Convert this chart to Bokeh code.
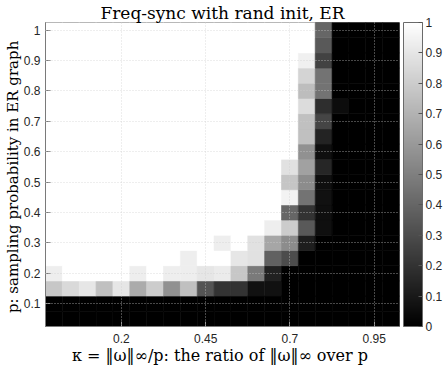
from bokeh.plotting import figure
from bokeh.models import (LinearColorMapper, ColorBar, FixedTicker, CustomJSTickFormatter,
                          ColumnDataSource, Range1d)
from bokeh.transform import transform
from bokeh.palettes import Greys256
from bokeh.embed import file_html
from bokeh.resources import INLINE

# kappa = ||omega||_inf / p  (columns)
kappa = [0.0, 0.05, 0.1, 0.15, 0.2, 0.25, 0.3, 0.35, 0.4, 0.45, 0.5,
         0.55, 0.6, 0.65, 0.7, 0.75, 0.8, 0.85, 0.9, 0.95, 1.0]
# p = sampling probability (rows)
p_vals = [0.05, 0.1, 0.15, 0.2, 0.25, 0.3, 0.35, 0.4, 0.45, 0.5,
          0.55, 0.6, 0.65, 0.7, 0.75, 0.8, 0.85, 0.9, 0.95, 1.0]

# success rate, one row per p value (bottom to top), one entry per kappa value
rate = [
    [0, 0, 0, 0, 0, 0, 0, 0, 0, 0, 0, 0, 0, 0, 0, 0, 0, 0, 0, 0, 0],
    [0, 0, 0, 0, 0, 0, 0, 0, 0, 0, 0, 0, 0, 0, 0, 0, 0, 0, 0, 0, 0],
    [0.78, 0.85, 0.90, 0.75, 0.90, 0.67, 0.80, 0.57, 0.75, 0.33, 0.20, 0.20, 0.07, 0.07, 0, 0, 0, 0, 0, 0, 0],
    [0.93, 1, 1, 1, 1, 0.93, 1, 0.93, 0.93, 0.90, 0.92, 0.78, 0.48, 0.13, 0, 0, 0, 0, 0, 0, 0],
    [1, 1, 1, 1, 1, 1, 1, 1, 0.93, 1, 1, 0.90, 0.88, 0.38, 0.30, 0, 0, 0, 0, 0, 0],
    [1, 1, 1, 1, 1, 1, 1, 1, 1, 1, 0.93, 1, 0.88, 0.65, 0.55, 0.12, 0, 0, 0, 0, 0],
    [1, 1, 1, 1, 1, 1, 1, 1, 1, 1, 1, 1, 1, 0.93, 0.80, 0.35, 0.06, 0, 0, 0, 0],
    [1, 1, 1, 1, 1, 1, 1, 1, 1, 1, 1, 1, 1, 1, 0.40, 0.20, 0.06, 0, 0, 0, 0],
    [1, 1, 1, 1, 1, 1, 1, 1, 1, 1, 1, 1, 1, 1, 0.95, 0.45, 0.07, 0, 0, 0, 0],
    [1, 1, 1, 1, 1, 1, 1, 1, 1, 1, 1, 1, 1, 1, 0.77, 0.55, 0.06, 0, 0, 0, 0],
    [1, 1, 1, 1, 1, 1, 1, 1, 1, 1, 1, 1, 1, 1, 0.88, 0.63, 0.15, 0, 0, 0, 0],
    [1, 1, 1, 1, 1, 1, 1, 1, 1, 1, 1, 1, 1, 1, 1, 0.57, 0.06, 0, 0, 0, 0],
    [1, 1, 1, 1, 1, 1, 1, 1, 1, 1, 1, 1, 1, 1, 1, 0.75, 0.14, 0, 0, 0, 0],
    [1, 1, 1, 1, 1, 1, 1, 1, 1, 1, 1, 1, 1, 1, 1, 0.75, 0.27, 0, 0, 0, 0],
    [1, 1, 1, 1, 1, 1, 1, 1, 1, 1, 1, 1, 1, 1, 1, 0.86, 0.18, 0.05, 0, 0, 0],
    [1, 1, 1, 1, 1, 1, 1, 1, 1, 1, 1, 1, 1, 1, 1, 0.74, 0.45, 0, 0, 0, 0],
    [1, 1, 1, 1, 1, 1, 1, 1, 1, 1, 1, 1, 1, 1, 1, 0.83, 0.45, 0, 0, 0, 0],
    [1, 1, 1, 1, 1, 1, 1, 1, 1, 1, 1, 1, 1, 1, 1, 0.94, 0.26, 0, 0, 0, 0],
    [1, 1, 1, 1, 1, 1, 1, 1, 1, 1, 1, 1, 1, 1, 1, 1, 0.35, 0, 0, 0, 0],
    [1, 1, 1, 1, 1, 1, 1, 1, 1, 1, 1, 1, 1, 1, 1, 1, 0.40, 0, 0, 0, 0],
]

x_ticks = [0.2, 0.45, 0.7, 0.95]
y_ticks = [0.1, 0.2, 0.3, 0.4, 0.5, 0.6, 0.7, 0.8, 0.9, 1.0]
cbar_ticks = [0, 0.1, 0.2, 0.3, 0.4, 0.5, 0.6, 0.7, 0.8, 0.9, 1.0]

title_text = "Freq-sync with rand init, ER"
xlabel_text = "κ = ‖ω‖∞/p:  the ratio of ‖ω‖∞ over p"
ylabel_text = "p:  sampling probability in ER graph"

cell_w = kappa[1] - kappa[0]
cell_h = p_vals[1] - p_vals[0]

xs, ys, vs = [], [], []
for i, pv in enumerate(p_vals):
    for j, kv in enumerate(kappa):
        xs.append(kv)
        ys.append(pv)
        vs.append(rate[i][j])
src = ColumnDataSource(dict(x=xs, y=ys, v=vs))

mapper = LinearColorMapper(palette=Greys256, low=0, high=1)

SERIF = "DejaVu Serif"
SANS = "Liberation Sans"
TXT = "#262626"

W, H = 447, 367
BL, BR, BT, BB = 45, 48, 22, 41
FW, FH = W - BL - BR, H - BT - BB

x0, x1 = kappa[0] - cell_w / 2, kappa[-1] + cell_w / 2
y0, y1 = p_vals[0] - cell_h / 2, p_vals[-1] + cell_h / 2

p = figure(width=W, height=H, output_backend="svg", toolbar_location=None,
           x_range=Range1d(x0, x1), y_range=Range1d(y0, y1),
           min_border_left=BL, min_border_top=BT, min_border_bottom=BB, min_border_right=BR)

p.rect(x="x", y="y", width=cell_w, height=cell_h, source=src,
       fill_color=transform("v", mapper), line_color=transform("v", mapper), line_width=0.6)

fmt = CustomJSTickFormatter(code="return String(Number(tick.toFixed(2)));")

p.title.text = title_text
p.title.align = "center"
p.title.text_font = SERIF
p.title.text_font_style = "normal"
p.title.text_font_size = "17px"
p.title.text_color = "#000000"
p.title.standoff = 0

for ax in (p.xaxis[0], p.yaxis[0]):
    ax.major_label_text_font = SANS
    ax.major_label_text_font_size = "12px"
    ax.major_label_text_color = TXT
    ax.axis_label_text_font = SERIF
    ax.axis_label_text_font_style = "normal"
    ax.axis_label_text_color = "#000000"
    ax.major_tick_in = 5
    ax.major_tick_out = 0
    ax.minor_tick_line_color = None
    ax.axis_line_color = "#7a7a7a"
    ax.major_tick_line_color = "#7a7a7a"
    ax.formatter = fmt

p.xaxis[0].ticker = FixedTicker(ticks=x_ticks)
p.yaxis[0].ticker = FixedTicker(ticks=y_ticks)
p.xaxis[0].major_label_standoff = 7
p.yaxis[0].major_label_standoff = 5
p.xaxis[0].axis_label_standoff = 0
p.yaxis[0].axis_label_standoff = -1
p.xaxis[0].axis_label = xlabel_text
p.yaxis[0].axis_label = ylabel_text
p.xaxis[0].axis_label_text_font_size = "16px"
p.yaxis[0].axis_label_text_font_size = "15px"

p.xgrid.ticker = FixedTicker(ticks=x_ticks)
p.ygrid.ticker = FixedTicker(ticks=y_ticks)
for g in (p.xgrid[0], p.ygrid[0]):
    g.level = "overlay"
    g.grid_line_color = "#cfcfcf"
    g.grid_line_alpha = 0.7
    g.grid_line_dash = "1 2"
    g.grid_line_width = 1

p.outline_line_color = "#7a7a7a"
p.outline_line_width = 1
p.background_fill_color = "#ffffff"

cb = ColorBar(color_mapper=mapper, ticker=FixedTicker(ticks=cbar_ticks), formatter=fmt,
              width=19, height=FH, padding=0, margin=0, location=(FW + 4, 0),
              major_tick_in=4, major_tick_out=0, label_standoff=3,
              bar_line_color="#6a6a6a", bar_line_width=1,
              major_tick_line_color="#555555",
              major_label_text_font=SANS, major_label_text_font_size="12px",
              major_label_text_color=TXT, border_line_color=None,
              background_fill_alpha=0)
p.add_layout(cb, "center")

open("out.html", "w").write(file_html(p, INLINE))
